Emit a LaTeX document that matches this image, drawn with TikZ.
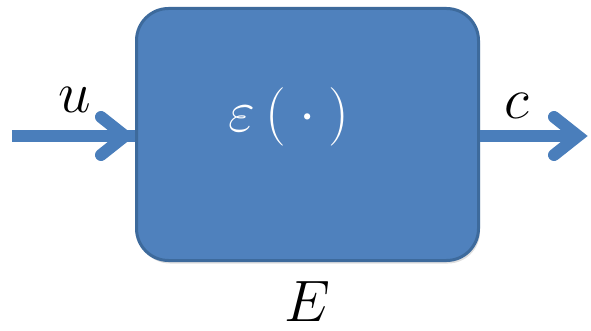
\documentclass[tikz,border=0pt]{standalone}
\usepackage{amsmath}
\usepackage{graphicx}
\usetikzlibrary{calc,shadows}
\definecolor{boxfill}{HTML}{4F81BD}
\definecolor{boxline}{HTML}{3D6A9C}
\definecolor{arrowcol}{HTML}{4A7EBB}
\tikzset{
  blockbox/.style={draw=boxline, line width=3pt, fill=boxfill, rounded corners=32pt,
    minimum width=342pt, minimum height=252pt, inner sep=0pt,
    drop shadow={opacity=0.25, shadow xshift=1.5pt, shadow yshift=-3pt}},
  shaft/.style={draw=arrowcol, line width=12pt, line cap=butt},
  chevron/.style={draw=arrowcol, line width=12pt, line cap=round, line join=miter},
  biglabel/.style={inner sep=0pt},
}
\newcommand{\bigmath}[1]{\scalebox{2.35}{\Huge$#1$}}
\begin{document}
\begin{tikzpicture}[x=1pt, y=-1pt]
\useasboundingbox (0,0) rectangle (591,331);
\node[blockbox] (box) at (307.5,134.5) {};
\coordinate (uin) at (12,136);
\coordinate (cout) at (578,136);
\draw[shaft] (uin) -- (box.west |- uin);
\draw[chevron] ($(box.west |- uin)+(-34,-19)$) -- ($(box.west |- uin)+(-10,0)$) -- ($(box.west |- uin)+(-34,19)$);
\draw[shaft] (box.east |- cout) -- (cout);
\draw[chevron] ($(cout)+(-24,-19)$) -- (cout) -- ($(cout)+(-24,19)$);
\node[biglabel] (u) at (75,100) {\bigmath{u}};
\node[biglabel] (c) at (517,106) {\bigmath{c}};
\node[biglabel] (E) at (307,302) {\bigmath{E}};
\node[biglabel, text=white] (eps) at (289,117) {\bigmath{\varepsilon\,(\:\cdot\:)}};
\end{tikzpicture}
\end{document}
